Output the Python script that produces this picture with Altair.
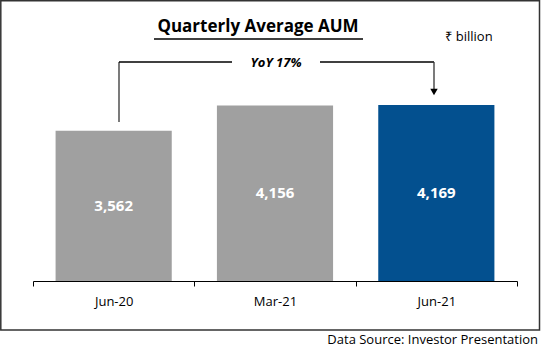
import altair as alt
import pandas as pd

periods = ["Jun-20", "Mar-21", "Jun-21"]
aum = [3562, 4156, 4169]
labels = ["3,562", "4,156", "4,169"]

title_text = "Quarterly Average AUM"
unit_text = "₹ billion"
yoy_text = "YoY 17%"
source_text = "Data Source: Investor Presentation"

GRAY = "#A0A0A0"
BLUE = "#03508F"
FONT = "Open Sans"

df = pd.DataFrame({"period": periods, "aum": aum, "label": labels})
one = alt.Data(values=[{"k": 1}])

x_enc = alt.X(
    "period:N",
    sort=periods,
    scale=alt.Scale(paddingInner=0, paddingOuter=0),
    axis=alt.Axis(
        title=None,
        labelAngle=0,
        tickBand="extent",
        tickSize=5,
        tickColor="#000000",
        domainColor="#000000",
        labelFont=FONT,
        labelFontSize=13,
        labelColor="#000000",
        labelPadding=9,
        grid=False,
    ),
)
y_enc = alt.Y("aum:Q", scale=alt.Scale(domain=[0, 5000]), axis=None)

bars = alt.Chart(df).mark_bar(width=alt.RelativeBandSize(0.72)).encode(
    x=x_enc,
    y=y_enc,
    color=alt.Color("period:N", scale=alt.Scale(domain=periods, range=[GRAY, GRAY, BLUE]), legend=None),
)

bar_text = alt.Chart(df).transform_calculate(half="datum.aum / 2").mark_text(
    font=FONT, fontSize=15, fontWeight="bold", color="white", baseline="middle"
).encode(
    x=alt.X("period:N", sort=periods),
    y=alt.Y("half:Q", scale=alt.Scale(domain=[0, 5000])),
    text="label:N",
)

def txt(s, x, y, **kw):
    return alt.Chart(one).mark_text(font=FONT, baseline="middle", color="#000000", **kw).encode(
        x=alt.value(x), y=alt.value(y), text=alt.value(s)
    )

def rule(x, y, x2=None, y2=None, w=1.3, color="#000000"):
    enc = {"x": alt.value(x), "y": alt.value(y)}
    if x2 is not None:
        enc["x2"] = alt.value(x2)
    if y2 is not None:
        enc["y2"] = alt.value(y2)
    return alt.Chart(one).mark_rule(strokeWidth=w, color=color).encode(**enc)

title = txt(title_text, 225, -43, fontSize=17, fontWeight="bold")
underline = rule(121, -31, x2=330, w=1.5)
unit = txt(unit_text, 436, -33, fontSize=13)
yoy = txt(yoy_text, 243, -7, fontSize=13, fontWeight="bold", fontStyle="italic")
source = txt(source_text, 505, 270, fontSize=13, align="right")

left_v = rule(86, -8, y2=52, color="#333333")
h1 = rule(86, -8, x2=199)
h2 = rule(287, -8, x2=401)
right_v = rule(401, -8, y2=20, color="#333333")
arrow = alt.Chart(one).mark_point(shape="triangle-down", filled=True, size=55, color="#000000", opacity=1).encode(
    x=alt.value(401), y=alt.value(22)
)

border = alt.Chart(one).mark_rect(fill="transparent", stroke="#333333", strokeWidth=1.5).encode(
    x=alt.value(-32.2), x2=alt.value(506.5), y=alt.value(-69.2), y2=alt.value(260)
)

chart = alt.layer(
    border, bars, bar_text, title, underline, unit, yoy, source, left_v, h1, h2, right_v, arrow
).properties(
    width=484,
    height=211,
    autosize=alt.AutoSizeParams(type="none"),
    padding={"left": 33, "top": 70, "right": 25, "bottom": 70},
    background="white",
).configure_view(stroke=None)

chart.save("out.html", embed_options={"renderer": "svg", "actions": False})
